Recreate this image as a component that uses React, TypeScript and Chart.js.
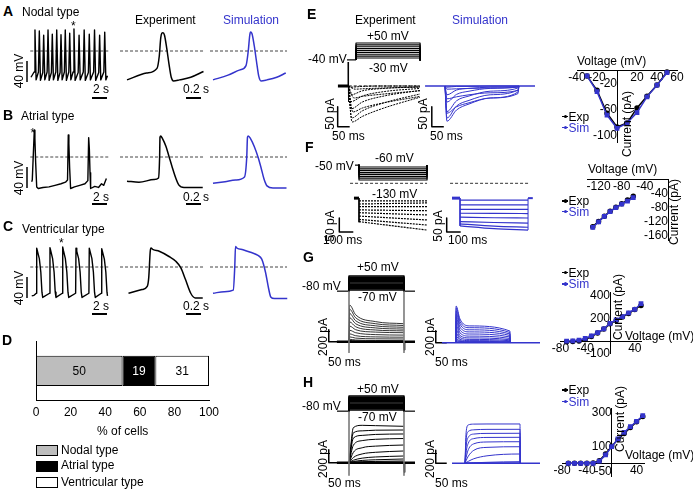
import React, { useEffect, useRef } from "react";
import { Chart, registerables } from "chart.js";

Chart.register(...registerables);

const FONT = "'Liberation Sans', Arial, Helvetica, sans-serif";
const BLUE = "#3434cc";
const BLACK = "#000";
Chart.defaults.font.family = FONT;
Chart.defaults.font.size = 12;
Chart.defaults.color = "#000";

type P = [number, number];

// ---------------- A–C : action potentials (time s, membrane potential mV) ----------------
const nodalTrain: P[] = [
  [0, -50],
  [0.41, -40], [0.53, 40], [0.68, -55],
  [0.99, -40], [1.11, 38], [1.26, -56],
  [1.57, -41], [1.69, 30], [1.84, -55],
  [2.15, -40], [2.27, 40], [2.42, -56],
  [2.72, -41], [2.84, 32], [2.99, -55],
  [3.31, -40], [3.43, 40], [3.58, -56],
  [3.88, -41], [4.0, 31], [4.15, -55],
  [4.45, -40], [4.57, 40], [4.72, -56],
  [5.04, -40], [5.16, 34], [5.31, -55],
  [5.61, -40], [5.73, 42], [5.88, -56],
  [6.29, -41], [6.41, 30], [6.56, -55],
  [6.97, -40], [7.09, 40], [7.24, -56],
  [7.65, -41], [7.77, 32], [7.92, -55],
  [8.35, -40], [8.47, 40], [8.62, -56],
  [9.03, -41], [9.15, 30], [9.3, -55],
  [9.71, -40], [9.83, 36], [9.98, -55],
  [10.2, -47],
];
const nodalExp: P[] = [[0, -55], [0.26, -42], [0.4, -33], [0.43, -10], [0.45, 25], [0.465, 34], [0.48, 35], [0.5, 30], [0.53, 5], [0.56, -25], [0.59, -50], [0.62, -57], [0.7, -55], [0.85, -50], [1.02, -39]];
const nodalSim: P[] = [[0, -55], [0.2, -46], [0.36, -36], [0.44, -28], [0.47, 0], [0.49, 30], [0.5, 36], [0.52, 33], [0.55, 10], [0.58, -20], [0.61, -48], [0.64, -57], [0.72, -55], [0.85, -50], [0.97, -42]];

const atrialTrain: P[] = [
  [0.09, -47], [0.17, -44], [0.44, 51], [0.52, 35], [0.62, -10], [0.76, -57], [0.97, -60],
  [1.6, -58], [2.4, -57], [3.2, -54], [4.0, -51], [4.6, -48], [4.87, -44],
  [4.97, 42], [5.05, 25], [5.15, -20], [5.28, -60], [5.8, -57], [6.5, -54], [7.2, -51], [7.58, -45],
  [7.69, 37], [7.78, 15], [7.87, -30], [7.95, -60], [8.5, -56], [9.0, -58], [9.4, -51], [9.7, -54], [10.05, -41],
];
const atrialExp: P[] = [[0, -46], [0.16, -48], [0.36, -43], [0.42, -40], [0.435, 0], [0.44, 38], [0.45, 40], [0.47, 36], [0.52, 20], [0.56, 1], [0.6, -18], [0.65, -40], [0.69, -53], [0.76, -58], [1.01, -58]];
const atrialSim: P[] = [[0, -50], [0.16, -47], [0.3, -44], [0.42, -38], [0.45, 0], [0.46, 38], [0.47, 40], [0.5, 35], [0.55, 20], [0.6, 0], [0.64, -20], [0.68, -42], [0.72, -55], [0.8, -59], [0.98, -59]];

const ventTrain: P[] = [
  [0.1, -55], [0.4, -54],
  [0.71, -50], [0.76, 36], [0.86, 30], [1.11, 16], [1.31, -10], [1.46, -48], [1.56, -58],
  [2.48, -50], [2.53, 37], [2.63, 31], [2.88, 16], [3.08, -10], [3.23, -48], [3.33, -58],
  [4.18, -50], [4.23, 38], [4.33, 31], [4.58, 16], [4.78, -10], [4.93, -48], [5.03, -58],
  [5.95, -50], [6.0, 36], [6.1, 30], [6.35, 16], [6.55, -10], [6.7, -48], [6.8, -58],
  [7.72, -50], [7.77, 36], [7.87, 30], [8.12, 16], [8.32, -10], [8.47, -48], [8.57, -58],
  [9.38, -50], [9.43, 35], [9.53, 29], [9.78, 15], [9.98, -10], [10.13, -48], [10.2, -55],
];
const ventExp: P[] = [[0.02, -50], [0.2, -43], [0.27, -37], [0.29, -20], [0.31, 30], [0.32, 36], [0.35, 33], [0.43, 30], [0.56, 20], [0.65, 11], [0.72, -2], [0.78, -24], [0.85, -50], [0.91, -59], [1.01, -59]];
const ventSim: P[] = [[0, -50], [0.15, -47], [0.27, -44], [0.29, 0], [0.3, 39], [0.32, 36], [0.4, 33], [0.5, 28], [0.6, 22], [0.65, 15], [0.7, -10], [0.74, -40], [0.77, -57], [0.82, -60], [0.99, -60]];

// ---------------- D : distribution of cell types ----------------
const cellTypes = ["Nodal type", "Atrial type", "Ventricular type"];
const cellPercents = [50, 19, 31];
const cellColors = ["#bdbdbd", "#000000", "#ffffff"];
const percentTicks = [0, 20, 40, 60, 80, 100];

// ---------------- E : Na current (ms, pA) ----------------
const naHolding = -40;
const naSteps = [-30, -20, -10, 0, 10, 20, 30, 40, 50];
const naExpPeakTime = [30, 25, 20, 17, 15, 13, 12, 12, 12];
const naExpPeak = [-8, -30, -65, -90, -80, -57, -39, -22, -3];
const naExpAt60 = [-7, -26, -55, -76, -62, -40, -25, -12, -1];
const naExpAt150 = [-5, -20, -42, -55, -42, -25, -14, -6, 0];
const naExpAt300 = [-3, -12, -26, -28, -20, -11, -6, -2, 0];
const naSimPeak = [-8, -32, -68, -88, -80, -64, -40, -22, -3];
const naSimAt48 = [-7, -27, -52, -60, -50, -37, -21, -10, -1];
const naSimAt100 = [-6, -22, -42, -45, -36, -25, -13, -6, -1];
const naSimAt188 = [-5, -17, -30, -30, -22, -13, -6, -3, 0];
const naSimAt304 = [-3, -11, -19, -15, -10, -5, -2, -1, 0];
const naIVExp = [-8, -30, -65, -86, -80, -57, -39, -22, -2];
const naIVSim = [-8, -32, -68, -88, -80, -64, -40, -22, -3];
const naIVTicksV = [-40, -20, 20, 40, 60];
const naIVTicksI = [-100, -60, -20];

// ---------------- F : funny current ----------------
const hcnHolding = -50;
const hcnHoldCurrent = -53;
const hcnSteps = [-60, -70, -80, -90, -100, -110, -120, -130];
const hcnExpStart = [-63, -74, -83, -95, -105, -117, -129, -137];
const hcnExpEnd = [-63, -70, -83, -98, -113, -131, -149, -167];
const hcnSimStart = [-60, -77, -93, -107, -121, -137, -145, -152];
const hcnSimMid = [-60, -77, -93, -107.5, -123, -140, -153, -162];
const hcnSimEnd = [-60, -77, -93, -108, -124, -142, -157, -167];
const hcnIVV = [-130, -120, -110, -100, -90, -80, -70, -60];
const hcnIVExp = [-135, -120, -105, -91, -80, -70, -59, -48];
const hcnIVSim = [-137, -121, -106, -92, -81, -71, -62, -52];
const hcnIVTicksV = [-120, -80, -40];
const hcnIVTicksI = [-160, -120, -80, -40];

// ---------------- G / H : K currents ----------------
const kHolding = -80;
const kSteps = [-70, -60, -50, -40, -30, -20, -10, 0, 10, 20, 30, 40, 50];
const gExpPeak = [5, 10, 20, 40, 80, 130, 190, 260, 330, 400, 470, 540, 610];
const gExpAt30 = [2, 5, 12, 28, 60, 100, 150, 200, 250, 300, 350, 400, 450];
const gExpAt120 = [1, 3, 8, 20, 48, 80, 118, 160, 195, 230, 265, 300, 335];
const gExpAt248 = [0, 2, 6, 18, 45, 75, 110, 150, 180, 210, 240, 270, 300];
const gSimPeak = [20, 40, 70, 110, 160, 220, 290, 360, 420, 480, 530, 580, 612];
const gSimAt18 = [8, 14, 22, 35, 55, 85, 120, 165, 210, 260, 310, 355, 395];
const gSimAt60 = [5, 9, 14, 22, 35, 55, 80, 110, 145, 180, 215, 250, 280];
const gSimAt245 = [3, 5, 8, 13, 20, 32, 48, 70, 95, 120, 145, 170, 195];
const gIVExp = [0, 2, 6, 18, 45, 75, 110, 155, 185, 215, 245, 280, 315];
const gIVSim = [5, 8, 14, 28, 50, 78, 112, 160, 190, 218, 250, 282, 330];
const gIVTicksV = [-80, -40, 40];
const gIVTicksI = [-100, 200, 400];

const hExpAt20 = [0, 0, 0, 2, 8, 18, 38, 80, 160, 270, 380, 460, 540];
const hExpAt60 = [0, 0, 0, 4, 15, 35, 70, 135, 230, 340, 420, 490, 575];
const hExpAt120 = [0, 0, 0, 5, 20, 45, 88, 160, 255, 360, 435, 500, 570];
const hExpAt248 = [0, 0, 0, 6, 26, 57, 103, 180, 272, 372, 442, 503, 560];
const hSimAt5 = [0, 0, 0, 0, 0, 1, 10, 40, 90, 170, 260, 360, 470];
const hSimAt15 = [0, 0, 0, 0, 0, 3, 30, 110, 210, 310, 400, 490, 590];
const hSimAt40 = [0, 0, 0, 0, 0, 8, 70, 200, 300, 380, 450, 515, 603];
const hSimAt100 = [0, 0, 0, 0, 0, 15, 115, 245, 328, 398, 460, 522, 605];
const hSimAt250 = [0, 0, 0, 0, 0, 25, 143, 255, 332, 400, 462, 523, 605];
const hIVExp = [0, 0, 0, 0, 2, 15, 55, 100, 140, 175, 210, 245, 275];
const hIVSim = [0, 0, 0, 0, 0, 12, 49, 98, 143, 182, 215, 247, 280];
const hIVTicksV = [-80, -40, 40];
const hIVTicksI = [-50, 100, 300];

// ---------------- helpers ----------------
const MONO = { cubicInterpolationMode: "monotone" };
const DASH = { borderDash: [3, 2] };

function ln(data: P[], color = BLACK, width = 1, extra: any = {}) {
  return {
    data: data.map(([x, y]) => ({ x, y })),
    showLine: true,
    borderColor: color,
    backgroundColor: color,
    borderWidth: width,
    pointRadius: 0,
    pointHoverRadius: 0,
    clip: false,
    borderJoinStyle: "round",
    ...extra,
  };
}

function traceConfig(xr: number[], yr: number[], datasets: any[]) {
  return {
    type: "scatter",
    data: { datasets },
    options: {
      responsive: false,
      animation: false,
      events: [],
      layout: { padding: 0 },
      plugins: { legend: { display: false }, tooltip: { enabled: false } },
      scales: {
        x: { type: "linear", display: false, min: xr[0], max: xr[1] },
        y: { type: "linear", display: false, min: yr[0], max: yr[1] },
      },
    },
  };
}

const zeroFit = (s: any) => {
  if (s.isHorizontal()) s.height = 0;
  else s.width = 0;
  s.paddingLeft = 0;
  s.paddingRight = 0;
  s.paddingTop = 0;
  s.paddingBottom = 0;
};
const zeroSidePadding = (s: any) => {
  s.paddingLeft = 0;
  s.paddingRight = 0;
};

function crossAxis(r: number[], ticks: number[], position: any) {
  return {
    type: "linear",
    min: r[0],
    max: r[1],
    position,
    grid: { display: false, drawTicks: false },
    border: { display: true, color: "#000", width: 1 },
    ticks: { autoSkip: false, maxRotation: 0, minRotation: 0, padding: 0, color: "#000", font: { size: 12, family: FONT } },
    afterBuildTicks: (s: any) => {
      s.ticks = ticks.map((v) => ({ value: v }));
    },
    afterFit: zeroFit,
  };
}

function ivConfig(V: number[], expI: number[], simI: number[], xr: number[], yr: number[], xt: number[], yt: number[], pad: any) {
  return {
    type: "scatter",
    data: {
      datasets: [
        { data: V.map((v, i) => ({ x: v, y: simI[i] })), showLine: true, borderColor: BLUE, backgroundColor: BLUE, borderWidth: 1.5, pointRadius: 2.3, pointStyle: "rect", clip: false },
        { data: V.map((v, i) => ({ x: v, y: expI[i] })), showLine: true, borderColor: BLACK, backgroundColor: BLACK, borderWidth: 1.5, pointRadius: 2, clip: false },
      ],
    },
    options: {
      responsive: false,
      animation: false,
      events: [],
      layout: { padding: pad },
      plugins: { legend: { display: false }, tooltip: { enabled: false } },
      scales: { x: crossAxis(xr, xt, { y: 0 }), y: crossAxis(yr, yt, { x: 0 }) },
    },
  };
}

const barValueLabels = {
  id: "barValueLabels",
  afterDatasetsDraw(chart: any) {
    const ctx = chart.ctx;
    chart.data.datasets.forEach((ds: any, i: number) => {
      chart.getDatasetMeta(i).data.forEach((el: any, j: number) => {
        const { x, base, y } = el.getProps(["x", "base", "y"], true);
        ctx.save();
        ctx.fillStyle = ds.backgroundColor === "#000000" ? "#fff" : "#000";
        ctx.font = `12px ${FONT}`;
        ctx.textAlign = "center";
        ctx.textBaseline = "middle";
        ctx.fillText(String(ds.data[j]), (x + base) / 2, y + 0.5);
        ctx.restore();
      });
    });
  },
};

function barConfig() {
  return {
    type: "bar",
    data: {
      labels: ["cells"],
      datasets: cellTypes.map((name, i) => ({
        label: name,
        data: [cellPercents[i]],
        backgroundColor: cellColors[i],
        borderColor: "#000",
        borderWidth: 1,
        borderSkipped: false,
        barPercentage: 1,
        categoryPercentage: 0.517,
      })),
    },
    options: {
      indexAxis: "y",
      responsive: false,
      animation: false,
      events: [],
      layout: { padding: { left: 16, right: 11, top: 11.7, bottom: 5.6 } },
      plugins: { legend: { display: false }, tooltip: { enabled: false } },
      scales: {
        x: {
          type: "linear",
          stacked: true,
          min: 0,
          max: 100,
          position: "bottom",
          grid: { display: false, drawTicks: false },
          border: { display: true, color: "#000", width: 1 },
          ticks: { padding: 5, color: "#000", font: { size: 12, family: FONT }, maxRotation: 0, autoSkip: false },
          afterBuildTicks: (s: any) => {
            s.ticks = percentTicks.map((v) => ({ value: v }));
          },
          afterFit: zeroSidePadding,
        },
        y: {
          stacked: true,
          position: "left",
          grid: { display: false, drawTicks: false },
          border: { display: true, color: "#000", width: 1 },
          ticks: { display: false },
          afterFit: zeroFit,
        },
      },
    },
    plugins: [barValueLabels],
  };
}

function ChartBox({ left, top, width, height, config }: any) {
  const ref = useRef<HTMLCanvasElement>(null);
  useEffect(() => {
    const c = new Chart(ref.current as HTMLCanvasElement, config);
    return () => c.destroy();
  }, []);
  return <canvas ref={ref} width={width} height={height} style={{ position: "absolute", left, top, width, height }} />;
}

function Txt({ x, cy, children, color = "#000", size = 12, bold = false }: any) {
  const lh = Math.round(size * 1.2);
  return (
    <div style={{ position: "absolute", left: x, top: cy - lh / 2, lineHeight: lh + "px", fontSize: size, fontFamily: FONT, fontWeight: bold ? "bold" : "normal", color, whiteSpace: "nowrap" }}>
      {children}
    </div>
  );
}

function VTxt({ cx, cy, children, color = "#000" }: any) {
  return (
    <div style={{ position: "absolute", left: cx, top: cy, transform: "translate(-50%,-50%) rotate(-90deg)", fontSize: 12, lineHeight: "14px", fontFamily: FONT, color, whiteSpace: "nowrap" }}>
      {children}
    </div>
  );
}

function Leg({ x, cy, color, label }: any) {
  return (
    <>
      <div style={{ position: "absolute", left: x, top: cy - 0.75, width: 6, height: 1.5, background: color }} />
      <div style={{ position: "absolute", left: x + 1.5, top: cy - 1.75, width: 3.5, height: 3.5, borderRadius: "50%", background: color }} />
      <Txt x={x + 6.5} cy={cy} color={color}>{label}</Txt>
    </>
  );
}

// ---------------- build chart list ----------------
function buildCharts() {
  const charts: any[] = [];
  const apRows = [
    { top: 16, train: nodalTrain, exp: nodalExp, sim: nodalSim },
    { top: 122, train: atrialTrain, exp: atrialExp, sim: atrialSim },
    { top: 232.3, train: ventTrain, exp: ventExp, sim: ventSim },
  ];
  const yr = [-95.24, 66.67];
  apRows.forEach((r, i) => {
    charts.push({
      key: "apL" + i, box: [20, r.top, 92, 85],
      config: traceConfig([-1.4667, 10.8], yr, [
        ln(r.train, BLACK, 1.4),
        ln([[-0.1, 0], [10.4, 0]], "#444", 1, DASH),
        ln([[-0.533, -59], [-0.533, -19]], BLACK, 1.5),
        ln([[8.13, -89.5], [10.13, -89.5]], BLACK, 2),
      ]),
    });
    charts.push({
      key: "apM" + i, box: [118, r.top, 92, 85],
      config: traceConfig([-0.12, 1.1067], yr, [
        ln(r.exp, BLACK, 1.5, MONO),
        ln([[-0.093, 0], [1.027, 0]], "#444", 1, DASH),
        ln([[0.787, -89.5], [0.987, -89.5]], BLACK, 2),
      ]),
    });
    charts.push({
      key: "apR" + i, box: [208, r.top, 84, 85],
      config: traceConfig([-0.0667, 1.0533], yr, [
        ln(r.sim, BLUE, 1.5, MONO),
        ln([[-0.04, 0], [0.987, 0]], "#444", 1, DASH),
      ]),
    });
  });

  charts.push({ key: "bar", box: [20, 330, 200, 100], config: barConfig() });

  // E
  charts.push({
    key: "eProt", box: [340, 38, 85, 26],
    config: traceConfig([-66.67, 287.5], [-62, 76.67], [
      ln([[-37.5, naHolding], [0, naHolding]], BLACK, 1.2),
      ...naSteps.map((L) => ln([[0, naHolding], [0, L], [267, L], [267, naHolding]], BLACK, 1.2)),
    ]),
  });
  charts.push({
    key: "eExp", box: [325, 55, 100, 85],
    config: traceConfig([-95.83, 320.83], [-135, 77.5], [
      ln([[-42, 0], [3, 0]], BLACK, 3),
      ln([[0, 0], [0.5, 60], [1.5, -40], [3, 0]], BLACK, 0.8),
      ln([[3, 0], [300, 0]], BLACK, 1, DASH),
      ...naSteps.map((_, k) =>
        ln([[2, 0], [naExpPeakTime[k], naExpPeak[k]], [60, naExpAt60[k]], [150, naExpAt150[k]], [300, naExpAt300[k]]], BLACK, 1, { ...MONO, borderDash: [2, 1] })
      ),
      ln([[-43, -52], [-43, -102], [7, -102]], BLACK, 1.5),
    ]),
  });
  charts.push({
    key: "eSim", box: [420, 55, 120, 85],
    config: traceConfig([-104.17, 395.83], [-135, 77.5], [
      ln([[-83, 0], [375, 0]], BLUE, 1.5),
      ...naSteps.map((_, k) =>
        ln([[0, 0], [8, naSimPeak[k]], [48, naSimAt48[k]], [100, naSimAt100[k]], [188, naSimAt188[k]], [304, naSimAt304[k]], [308, 0]], BLUE, 1, MONO)
      ),
      ln([[-55, -52], [-55, -102], [-5, -102]], BLACK, 1.5),
    ]),
  });
  charts.push({
    key: "eIV", box: [545, 50, 145, 100],
    config: ivConfig(naSteps, naIVExp, naIVSim, [-40, 60], [-110, 0], naIVTicksV, naIVTicksI, { left: 32, right: 13, top: 20.7, bottom: 7.3 }),
  });

  // F
  charts.push({
    key: "fProt", box: [345, 160, 85, 25],
    config: traceConfig([-100, 507.14], [-156.92, -22.31], [
      ln([[-28.6, hcnHolding], [0, hcnHolding]], BLACK, 1.2),
      ...hcnSteps.map((L) => ln([[0, hcnHolding], [0, L], [486, L], [486, hcnHolding]], BLACK, 1.2)),
    ]),
  });
  charts.push({
    key: "fExp", box: [320, 178, 110, 60],
    config: traceConfig([-278.57, 507.14], [-195.36, 18.93], [
      ln([[-64, 0], [486, 0]], "#333", 1, DASH),
      ln([[-36, hcnHoldCurrent], [0, hcnHoldCurrent]], BLACK, 3),
      ln([[0, hcnHoldCurrent], [0, -139]], BLACK, 1),
      ...hcnSteps.map((_, k) => ln([[0, hcnExpStart[k]], [486, hcnExpEnd[k]]], BLACK, 1.2, { borderDash: [2, 1] })),
      ln([[-140.7, -124], [-140.7, -174], [-40.7, -174]], BLACK, 1.5),
    ]),
  });
  charts.push({
    key: "fSim", box: [430, 178, 105, 60],
    config: traceConfig([-214.29, 535.71], [-195.36, 18.93], [
      ln([[-71, 0], [500, 0]], "#333", 1, DASH),
      ln([[-57, hcnHoldCurrent], [0, hcnHoldCurrent]], BLUE, 3),
      ln([[486, hcnHoldCurrent], [520, hcnHoldCurrent]], BLUE, 2),
      ln([[0, hcnHoldCurrent], [0, -152]], BLUE, 1),
      ln([[486, -167], [486, hcnHoldCurrent]], BLUE, 1),
      ...hcnSteps.map((_, k) => ln([[0, hcnSimStart[k]], [243, hcnSimMid[k]], [486, hcnSimEnd[k]]], BLUE, 1.2, MONO)),
      ln([[-95, -124], [-95, -174], [5, -174]], BLACK, 1.5),
    ]),
  });
  charts.push({
    key: "fIV", box: [560, 165, 120, 85],
    config: ivConfig(hcnIVV, hcnIVExp, hcnIVSim, [-140, 0], [-173, 0], hcnIVTicksV, hcnIVTicksI, { left: 27, right: 12, top: 14.3, bottom: 10 }),
  });

  // G and H protocols
  const kProt = () => [
    ln([[-54.5, kHolding], [0, kHolding]], BLACK, 1.2),
    ln([[250, kHolding], [300, kHolding]], BLACK, 1.2),
    ...kSteps.map((L) => ln([[0, kHolding], [0, L], [250, L], [250, kHolding]], BLACK, 1.5)),
  ];
  charts.push({ key: "gProt", box: [330, 270, 90, 25], config: traceConfig([-86.36, 322.73], [-112.86, 101.43], kProt()) });
  charts.push({ key: "hProt", box: [330, 389.5, 90, 25], config: traceConfig([-86.36, 322.73], [-112.86, 101.43], kProt()) });

  charts.push({
    key: "gExp", box: [315, 288, 105, 70],
    config: traceConfig([-154.55, 322.73], [-271.67, 895], [
      ln([[0, 847], [0, -188]], "#777", 0.8),
      ln([[250, 847], [250, -188]], "#777", 0.8),
      ...kSteps.map((_, k) => ln([[0.5, 0], [3, gExpPeak[k]], [30, gExpAt30[k]], [120, gExpAt120[k]], [248, gExpAt248[k]]], BLACK, 0.8, MONO)),
      ln([[-55, 0], [300, 0]], BLACK, 2.5),
      ln([[249, 0], [251, -140], [254, 0]], BLACK, 1),
      ln([[-92, 200], [-92, 0], [-42, 0]], BLACK, 1.5),
    ]),
  });
  charts.push({
    key: "gSim", box: [430, 288, 110, 70],
    config: traceConfig([-118.18, 381.82], [-255, 911.67], [
      ln([[-64, 0], [382, 0]], BLUE, 1.5),
      ...kSteps.map((_, k) => ln([[0, 0], [0.5, gSimPeak[k]], [18, gSimAt18[k]], [60, gSimAt60[k]], [245, gSimAt245[k]], [246, 0]], BLUE, 1, MONO)),
      ln([[-92, 200], [-92, 0], [-42, 0]], BLACK, 1.5),
    ]),
  });
  charts.push({
    key: "gIV", box: [545, 285, 130, 80],
    config: ivConfig(kSteps, gIVExp, gIVSim, [-80, 50], [-100, 425], gIVTicksV, gIVTicksI, { left: 15.4, right: 34, top: 7.8, bottom: 11.8 }),
  });

  charts.push({
    key: "hExp", box: [315, 405, 105, 75],
    config: traceConfig([-154.55, 322.73], [-266.15, 887.69], [
      ln([[0, 790], [0, -200]], "#777", 0.8),
      ln([[250, 790], [250, -200]], "#777", 0.8),
      ...kSteps.map((_, k) => ln([[0.5, 0], [20, hExpAt20[k]], [60, hExpAt60[k]], [120, hExpAt120[k]], [248, hExpAt248[k]]], BLACK, 1, MONO)),
      ln([[-55, 0], [300, 0]], BLACK, 2.5),
      ln([[249, 0], [251, -150], [254, 0]], BLACK, 1),
      ln([[-92, 200], [-92, 0], [-42, 0]], BLACK, 1.5),
    ]),
  });
  charts.push({
    key: "hSim", box: [430, 405, 110, 75],
    config: traceConfig([-159.09, 340.91], [-256.92, 896.92], [
      ln([[-59, 0], [341, 0]], BLUE, 1.5),
      ...kSteps.map((_, k) => ln([[0, 0], [5, hSimAt5[k]], [15, hSimAt15[k]], [40, hSimAt40[k]], [100, hSimAt100[k]], [250, hSimAt250[k]], [251, 0]], BLUE, 1, MONO)),
      ln([[-133, 200], [-133, 0], [-83, 0]], BLACK, 1.5),
    ]),
  });
  charts.push({
    key: "hIV", box: [545, 400, 130, 90],
    config: ivConfig(kSteps, hIVExp, hIVSim, [-80, 52], [-79, 325], hIVTicksV, hIVTicksI, { left: 17.1, right: 31, top: 8.05, bottom: 13.3 }),
  });
  return charts;
}

export default function App() {
  const charts = buildCharts();
  return (
    <div style={{ position: "absolute", left: 0, top: 0, width: 693, height: 493, background: "#fff", overflow: "hidden", fontFamily: FONT }}>
      {charts.map((c) => (
        <ChartBox key={c.key} left={c.box[0]} top={c.box[1]} width={c.box[2]} height={c.box[3]} config={c.config} />
      ))}

      {/* A */}
      <Txt x={3} cy={11} size={14} bold>A</Txt>
      <Txt x={22} cy={12}>Nodal type</Txt>
      <Txt x={135} cy={19.5}>Experiment</Txt>
      <Txt x={223} cy={19.5} color={BLUE}>Simulation</Txt>
      <Txt x={71} cy={26}>*</Txt>
      <VTxt cx={18.5} cy={71}>40 mV</VTxt>
      <Txt x={93} cy={89}>2 s</Txt>
      <Txt x={183} cy={89}>0.2 s</Txt>

      {/* B */}
      <Txt x={3} cy={115} size={14} bold>B</Txt>
      <Txt x={21} cy={116}>Atrial type</Txt>
      <Txt x={30.5} cy={132.5}>*</Txt>
      <VTxt cx={18.5} cy={178}>40 mV</VTxt>
      <Txt x={93} cy={197}>2 s</Txt>
      <Txt x={183} cy={197}>0.2 s</Txt>

      {/* C */}
      <Txt x={3} cy={226} size={14} bold>C</Txt>
      <Txt x={22} cy={229}>Ventricular type</Txt>
      <Txt x={59} cy={242.5}>*</Txt>
      <VTxt cx={18.5} cy={288}>40 mV</VTxt>
      <Txt x={93} cy={306}>2 s</Txt>
      <Txt x={183} cy={306}>0.2 s</Txt>

      {/* D */}
      <Txt x={2} cy={340} size={14} bold>D</Txt>
      <Txt x={97} cy={431}>% of cells</Txt>
      {cellTypes.map((name, i) => (
        <React.Fragment key={name}>
          <div style={{ position: "absolute", left: 36, top: [445, 460.5, 476.5][i], width: 20, height: 9, background: cellColors[i], border: "1px solid #000" }} />
          <Txt x={61} cy={[449.5, 465, 481.5][i]}>{name}</Txt>
        </React.Fragment>
      ))}

      {/* E */}
      <Txt x={307} cy={14} size={14} bold>E</Txt>
      <Txt x={355} cy={19.5}>Experiment</Txt>
      <Txt x={452} cy={19.5} color={BLUE}>Simulation</Txt>
      <Txt x={367} cy={36}>+50 mV</Txt>
      <Txt x={308} cy={59}>-40 mV</Txt>
      <Txt x={369} cy={68}>-30 mV</Txt>
      <VTxt cx={330} cy={114}>50 pA</VTxt>
      <Txt x={332} cy={136}>50 ms</Txt>
      <VTxt cx={423} cy={114}>50 pA</VTxt>
      <Txt x={430} cy={136}>50 ms</Txt>
      <Txt x={577} cy={61}>Voltage (mV)</Txt>
      <VTxt cx={627} cy={123.5}>Current (pA)</VTxt>
      <Leg x={562} cy={116.7} color={BLACK} label="Exp" />
      <Leg x={562} cy={127.7} color={BLUE} label="Sim" />

      {/* F */}
      <Txt x={305} cy={147} size={14} bold>F</Txt>
      <Txt x={315} cy={166}>-50 mV</Txt>
      <Txt x={375} cy={158}>-60 mV</Txt>
      <Txt x={372} cy={194}>-130 mV</Txt>
      <VTxt cx={330} cy={226}>50 pA</VTxt>
      <Txt x={323} cy={240}>100 ms</Txt>
      <VTxt cx={437.5} cy={226}>50 pA</VTxt>
      <Txt x={448} cy={240}>100 ms</Txt>
      <Txt x={588} cy={169}>Voltage (mV)</Txt>
      <VTxt cx={674} cy={211.5}>Current (pA)</VTxt>
      <Leg x={562} cy={201} color={BLACK} label="Exp" />
      <Leg x={562} cy={211.5} color={BLUE} label="Sim" />

      {/* G */}
      <Txt x={303} cy={257} size={14} bold>G</Txt>
      <Txt x={357} cy={267}>+50 mV</Txt>
      <Txt x={302} cy={286}>-80 mV</Txt>
      <Txt x={358} cy={297}>-70 mV</Txt>
      <VTxt cx={322.5} cy={337}>200 pA</VTxt>
      <Txt x={328} cy={362}>50 ms</Txt>
      <VTxt cx={430} cy={337}>200 pA</VTxt>
      <Txt x={435} cy={362}>50 ms</Txt>
      <Txt x={625} cy={335.5}>Voltage (mV)</Txt>
      <VTxt cx={618} cy={306.5}>Current (pA)</VTxt>
      <Leg x={562} cy={272.5} color={BLACK} label="Exp" />
      <Leg x={562} cy={284} color={BLUE} label="Sim" />

      {/* H */}
      <Txt x={303} cy={382} size={14} bold>H</Txt>
      <Txt x={357} cy={389}>+50 mV</Txt>
      <Txt x={302} cy={406}>-80 mV</Txt>
      <Txt x={358} cy={417}>-70 mV</Txt>
      <VTxt cx={322.5} cy={459}>200 pA</VTxt>
      <Txt x={328} cy={483}>50 ms</Txt>
      <VTxt cx={430} cy={459}>200 pA</VTxt>
      <Txt x={435} cy={483}>50 ms</Txt>
      <Txt x={625} cy={455.3}>Voltage (mV)</Txt>
      <VTxt cx={620} cy={418.5}>Current (pA)</VTxt>
      <Leg x={562} cy={390} color={BLACK} label="Exp" />
      <Leg x={562} cy={401.5} color={BLUE} label="Sim" />
    </div>
  );
}
